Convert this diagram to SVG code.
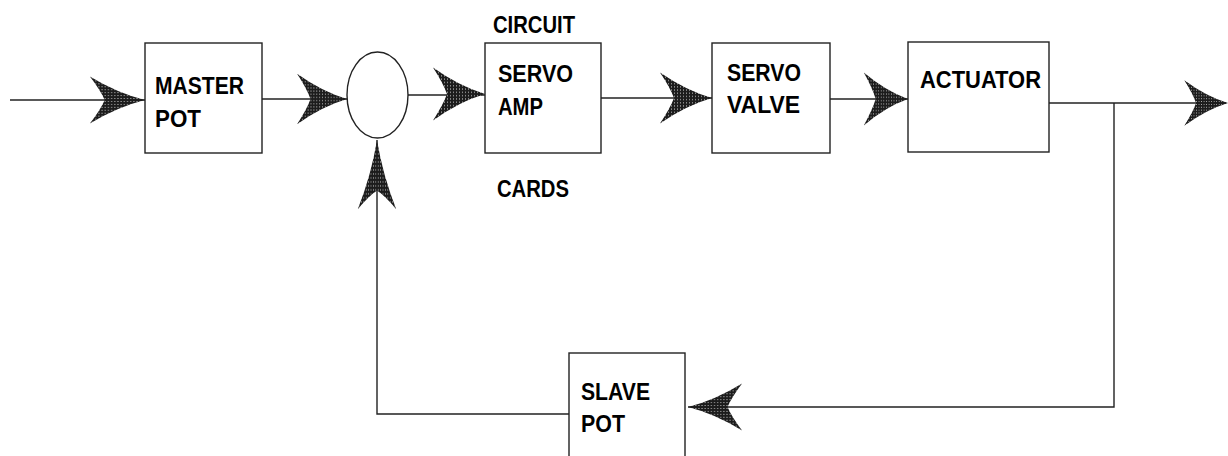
<svg xmlns="http://www.w3.org/2000/svg" width="1228" height="456" viewBox="0 0 1228 456">
<defs>
<pattern id="stip" width="3" height="3" patternUnits="userSpaceOnUse">
<rect width="3" height="3" fill="#1c1c1c"/>
<rect x="1" y="1" width="1" height="1" fill="#bbbbbb"/>
</pattern>
<path id="ah" d="M0,0 Q-26,-7 -52,-24 Q-42,-10 -38,0 Q-42,10 -52,24 Q-26,7 0,0 Z"/>
</defs>
<style>
.box{fill:#fff;stroke:#222;stroke-width:1.4}
.ln{fill:none;stroke:#222;stroke-width:1.4}
.t{font-family:"Liberation Sans",Arial,sans-serif;font-weight:bold;font-size:24px;fill:#000}
.arr{fill:url(#stip)}
</style>
<rect width="1228" height="456" fill="#fff"/>
<g id="connectors">
<path class="ln" d="M10,100 H145"/>
<path class="ln" d="M262,99 H347"/>
<path class="ln" d="M408,95 H485"/>
<path class="ln" d="M601,98 H712"/>
<path class="ln" d="M830,99 H908"/>
<path class="ln" d="M1049,103 H1226"/>
<path class="ln" d="M1114,103 V407 H688"/>
<path class="ln" d="M569,414 H377 V140"/>
<use class="arr" href="#ah" transform="translate(145,100) scale(1.06,0.98)"/>
<use class="arr" href="#ah" transform="translate(347,99) scale(0.96,1.05)"/>
<use class="arr" href="#ah" transform="translate(485,94) scale(1,1.1)"/>
<use class="arr" href="#ah" transform="translate(712,98) scale(1,1.06)"/>
<use class="arr" href="#ah" transform="translate(908,99) scale(0.85,1.1)"/>
<use class="arr" href="#ah" transform="translate(1228,103) scale(0.84,0.95)"/>
<use class="arr" href="#ah" transform="translate(377,140) rotate(-90) scale(1.33,0.8)"/>
<use class="arr" href="#ah" transform="translate(688,407) rotate(180) scale(1.04,0.98)"/>
</g>
<g id="master-pot">
<rect class="box" x="145" y="43" width="117" height="110"/>
<text class="t" x="155" y="94" textLength="89" lengthAdjust="spacingAndGlyphs">MASTER</text>
<text class="t" x="155" y="127" textLength="46" lengthAdjust="spacingAndGlyphs">POT</text>
</g>
<g id="summing-junction">
<ellipse class="box" cx="377.5" cy="95" rx="30.5" ry="43"/>
</g>
<g id="servo-amp">
<text class="t" x="493" y="33" textLength="82" lengthAdjust="spacingAndGlyphs">CIRCUIT</text>
<rect class="box" x="485" y="43" width="116" height="110"/>
<text class="t" x="498" y="82" textLength="75" lengthAdjust="spacingAndGlyphs">SERVO</text>
<text class="t" x="498" y="115" textLength="45" lengthAdjust="spacingAndGlyphs">AMP</text>
<text class="t" x="497" y="197" textLength="72" lengthAdjust="spacingAndGlyphs">CARDS</text>
</g>
<g id="servo-valve">
<rect class="box" x="712" y="43" width="118" height="110"/>
<text class="t" x="727" y="81" textLength="74" lengthAdjust="spacingAndGlyphs">SERVO</text>
<text class="t" x="727" y="113" textLength="73" lengthAdjust="spacingAndGlyphs">VALVE</text>
</g>
<g id="actuator">
<rect class="box" x="908" y="42" width="141" height="110"/>
<text class="t" x="920" y="88" textLength="121" lengthAdjust="spacingAndGlyphs">ACTUATOR</text>
</g>
<g id="slave-pot">
<rect class="box" x="569" y="353" width="116" height="110"/>
<text class="t" x="581" y="400" textLength="69" lengthAdjust="spacingAndGlyphs">SLAVE</text>
<text class="t" x="581" y="432" textLength="44" lengthAdjust="spacingAndGlyphs">POT</text>
</g>
</svg>
